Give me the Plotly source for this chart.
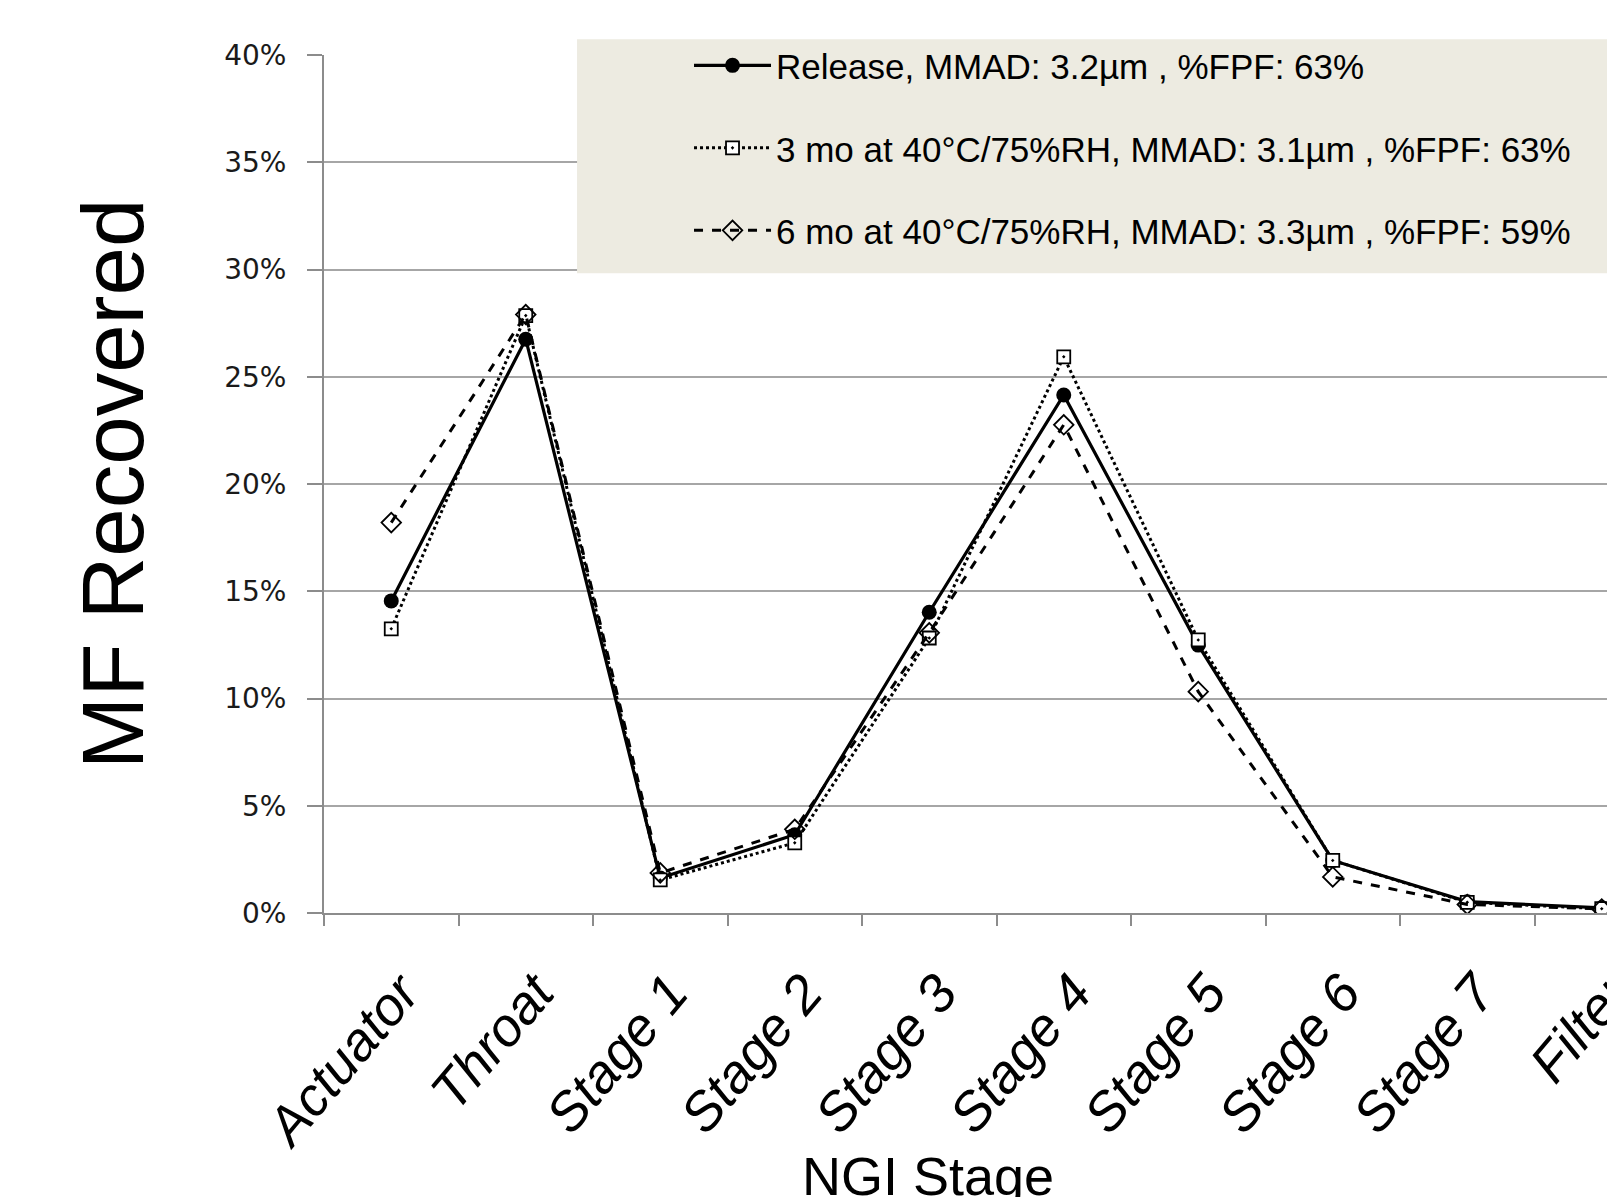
import plotly.graph_objects as go

stages = ["Actuator", "Throat", "Stage 1", "Stage 2", "Stage 3", "Stage 4",
          "Stage 5", "Stage 6", "Stage 7", "Filter"]
release = [14.55, 26.75, 1.63, 3.65, 14.02, 24.15, 12.49, 2.45, 0.53, 0.24]
mo3 = [13.25, 27.85, 1.54, 3.27, 12.82, 25.93, 12.73, 2.45, 0.50, 0.20]
mo6 = [18.20, 27.90, 1.87, 3.90, 13.06, 22.76, 10.32, 1.68, 0.40, 0.19]
names = ["Release, MMAD: 3.2µm , %FPF: 63%",
         "3 mo at 40°C/75%RH, MMAD: 3.1µm , %FPF: 63%",
         "6 mo at 40°C/75%RH, MMAD: 3.3µm , %FPF: 59%"]
yticks = [0, 5, 10, 15, 20, 25, 30, 35, 40]

fig = go.Figure()
fig.add_trace(go.Scatter(x=stages, y=[v / 100 for v in release], name=names[0],
                         mode="lines+markers", legendgroup="a",
                         line=dict(color="black", width=3.2),
                         marker=dict(symbol="circle", size=15, color="black")))
fig.add_trace(go.Scatter(x=stages, y=[v / 100 for v in mo3], name=names[1],
                         mode="lines+markers", legendgroup="b",
                         line=dict(color="black", width=3, dash="dot"),
                         marker=dict(symbol="square-dot", size=13, color="white",
                                     line=dict(color="black", width=1.8))))
fig.add_trace(go.Scatter(x=stages, y=[v / 100 for v in mo6], name=names[2],
                         mode="lines+markers", legendgroup="c",
                         line=dict(color="black", width=3, dash="dash"),
                         marker=dict(symbol="diamond-open", size=15, color="black",
                                     line=dict(color="black", width=1.8))))

fig.add_shape(type="rect", xref="paper", yref="paper", x0=0.1948, x1=1.2,
              y0=0.7455, y1=1.0183, fillcolor="#EDEBE1", line=dict(width=0),
              layer="above")

fig.add_annotation(text="NGI Stage", xref="paper", yref="paper", x=0.465, y=-0.269,
                   xanchor="center", yanchor="top", showarrow=False,
                   font=dict(size=54, family="Liberation Sans, Arial", color="black"))

fig.update_layout(
    width=1615, height=1197,
    margin=dict(l=316, r=0, t=47, b=292, autoexpand=False),
    plot_bgcolor="white", paper_bgcolor="white",
    font=dict(family="Liberation Sans, Arial, sans-serif", color="black"),
    legend=dict(x=0.281, y=1.022, xanchor="left", yanchor="top",
                bgcolor="rgba(0,0,0,0)", font=dict(size=35, family="Liberation Sans, Arial"),
                itemwidth=77, tracegroupgap=34),
    xaxis=dict(type="category", range=[-0.5, 9.158], automargin=False,
               showgrid=False, showline=True, linecolor="#8C8C8C", linewidth=2,
               ticks="outside", tickson="boundaries", ticklen=11, tickwidth=2,
               tickcolor="#8C8C8C", tickangle=-50, ticklabelstandoff=24,
               ticklabelshift=10,
               tickfont=dict(size=54, style="italic", family="Liberation Sans, Arial")),
    yaxis=dict(range=[0, 0.40], tickvals=[v / 100 for v in yticks], automargin=False,
               ticktext=[f"{v}%" for v in yticks],
               showgrid=True, gridcolor="#A6A6A6", gridwidth=2,
               showline=True, linecolor="#8C8C8C", linewidth=2, zeroline=False,
               ticks="outside", ticklen=15, tickwidth=2, tickcolor="#8C8C8C",
               ticklabelstandoff=15,
               tickfont=dict(size=28, family="DejaVu Sans", color="#1a1a1a"),
               title=dict(text="MF Recovered", font=dict(size=87), standoff=52)),
)

fig.write_html("out.html")
